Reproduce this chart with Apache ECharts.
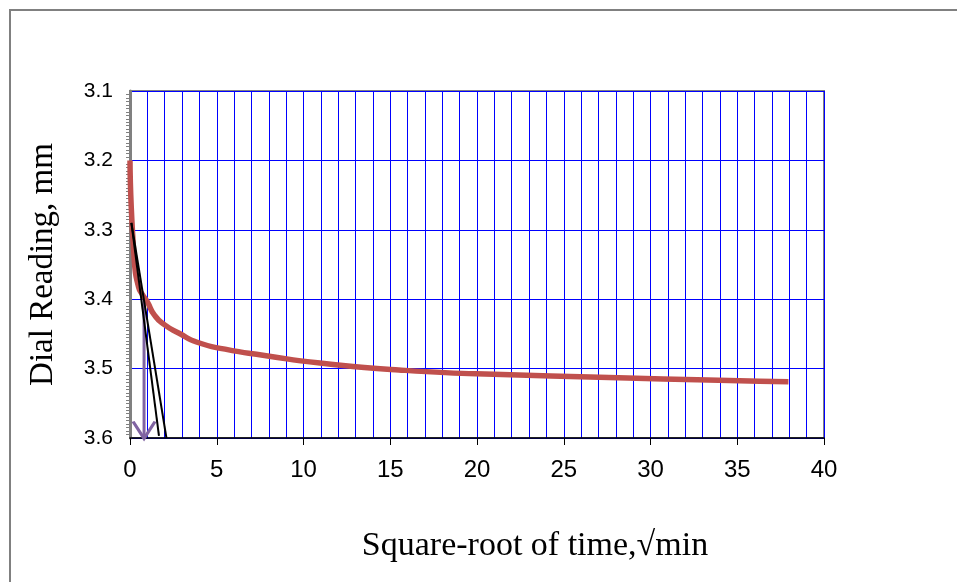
<!DOCTYPE html>
<html>
<head>
<meta charset="utf-8">
<script src="https://cdn.jsdelivr.net/npm/echarts@6/dist/echarts.min.js"></script>
<style>
  html, body { margin: 0; padding: 0; background: #fff; }
  #chart { width: 957px; height: 582px; }
</style>
</head>
<body>
<div id="chart"></div>
<script>
// Consolidation test: dial reading against square root of elapsed time
const sqrtTime    = [0, 0.25, 0.5, 0.71, 1, 1.41, 2, 2.83, 3.87, 5.48, 7.75, 10.95, 15.49, 21.91, 37.95];
const dialReading = [3.2, 3.345, 3.383, 3.393, 3.404, 3.423, 3.437, 3.449, 3.462, 3.472, 3.481, 3.492, 3.502, 3.509, 3.519];

// Initial tangent and the line with abscissas 1.15 times larger
const tangentX  = [0.08, 1.67];
const tangentY  = [3.29, 3.597];
const adjustedX = [0.08, 2.1];
const adjustedY = [3.29, 3.6];

// Marker dropped to the time axis at the intersection
const arrowX = [0.81, 0.81];
const arrowY = [3.4, 3.6];

const xTicks = [0, 5, 10, 15, 20, 25, 30, 35, 40];
const yTicks = [3.1, 3.2, 3.3, 3.4, 3.5, 3.6];

const pairs = (xs, ys) => xs.map((x, i) => [x, ys[i]]);

const chart = echarts.init(document.getElementById('chart'));
chart.setOption({
  animation: false,
  backgroundColor: '#ffffff',
  grid: {
    left: 130, top: 91, right: 133, bottom: 144,
    show: true, borderColor: '#808080', borderWidth: 2
  },
  xAxis: {
    type: 'value',
    min: xTicks[0], max: xTicks[xTicks.length - 1], interval: 5,
    axisLine: { onZero: false, lineStyle: { color: '#000', width: 1.5 } },
    axisTick: { show: true, length: 7, lineStyle: { color: '#000', width: 1 } },
    minorTick: { show: false, splitNumber: 5 },
    splitLine: { show: true, lineStyle: { color: '#0000ff', width: 1 } },
    minorSplitLine: { show: true, lineStyle: { color: '#0000ff', width: 1 } },
    axisLabel: {
      color: '#000', fontFamily: 'Liberation Sans', fontSize: 24, margin: 20
    }
  },
  yAxis: {
    type: 'value',
    inverse: true,
    min: yTicks[0], max: yTicks[yTicks.length - 1], interval: 0.1,
    name: 'Dial Reading, mm',
    nameLocation: 'middle', nameRotate: 90, nameGap: 70,
    nameTextStyle: { color: '#000', fontFamily: 'Liberation Serif', fontSize: 33 },
    axisLine: { lineStyle: { color: '#808080', width: 3 } },
    axisTick: { show: false },
    minorTick: { show: true, splitNumber: 20, length: 4, inside: true,
                 lineStyle: { color: '#808080', width: 1 } },
    splitLine: { show: true, lineStyle: { color: '#0000ff', width: 1 } },
    axisLabel: {
      color: '#000', fontFamily: 'Liberation Sans', fontSize: 21, margin: 17,
      formatter: v => v.toFixed(1)
    }
  },
  graphic: [
    {
      type: 'rect', silent: true, z: 100,
      shape: { x: 10, y: 10, width: 1000, height: 1000 },
      style: { fill: 'none', stroke: '#808080', lineWidth: 2 }
    },
    {
      type: 'text', silent: true, z: 100,
      x: 535, y: 546,
      style: {
        text: 'Square-root of time,\u221Amin',
        fill: '#000', font: '34px "Liberation Serif"',
        align: 'center', verticalAlign: 'middle'
      }
    }
  ],
  series: [
    {
      type: 'line',
      data: pairs(sqrtTime, dialReading),
      smooth: 0.6,
      showSymbol: false, symbol: 'none',
      lineStyle: { color: '#C0504D', width: 5.5 },
      z: 3
    },
    {
      type: 'line',
      data: pairs(tangentX, tangentY),
      symbol: 'none',
      lineStyle: { color: '#000', width: 2 },
      z: 4
    },
    {
      type: 'line',
      data: pairs(adjustedX, adjustedY),
      symbol: 'none',
      lineStyle: { color: '#000', width: 2 },
      z: 4
    },
    {
      type: 'line',
      data: pairs(arrowX, arrowY).map((p, i) => i === arrowX.length - 1
        ? { value: p, symbol: 'path://M0,0 L10,16 L20,0', symbolSize: [22, 17],
            symbolOffset: [0, -8], symbolKeepAspect: false }
        : { value: p, symbol: 'none' }),
      showSymbol: true,
      lineStyle: { color: '#8064A2', width: 3 },
      itemStyle: { color: 'rgba(0,0,0,0)', borderColor: '#8064A2', borderWidth: 3 },
      z: 2
    }
  ]
});
</script>
</body>
</html>
